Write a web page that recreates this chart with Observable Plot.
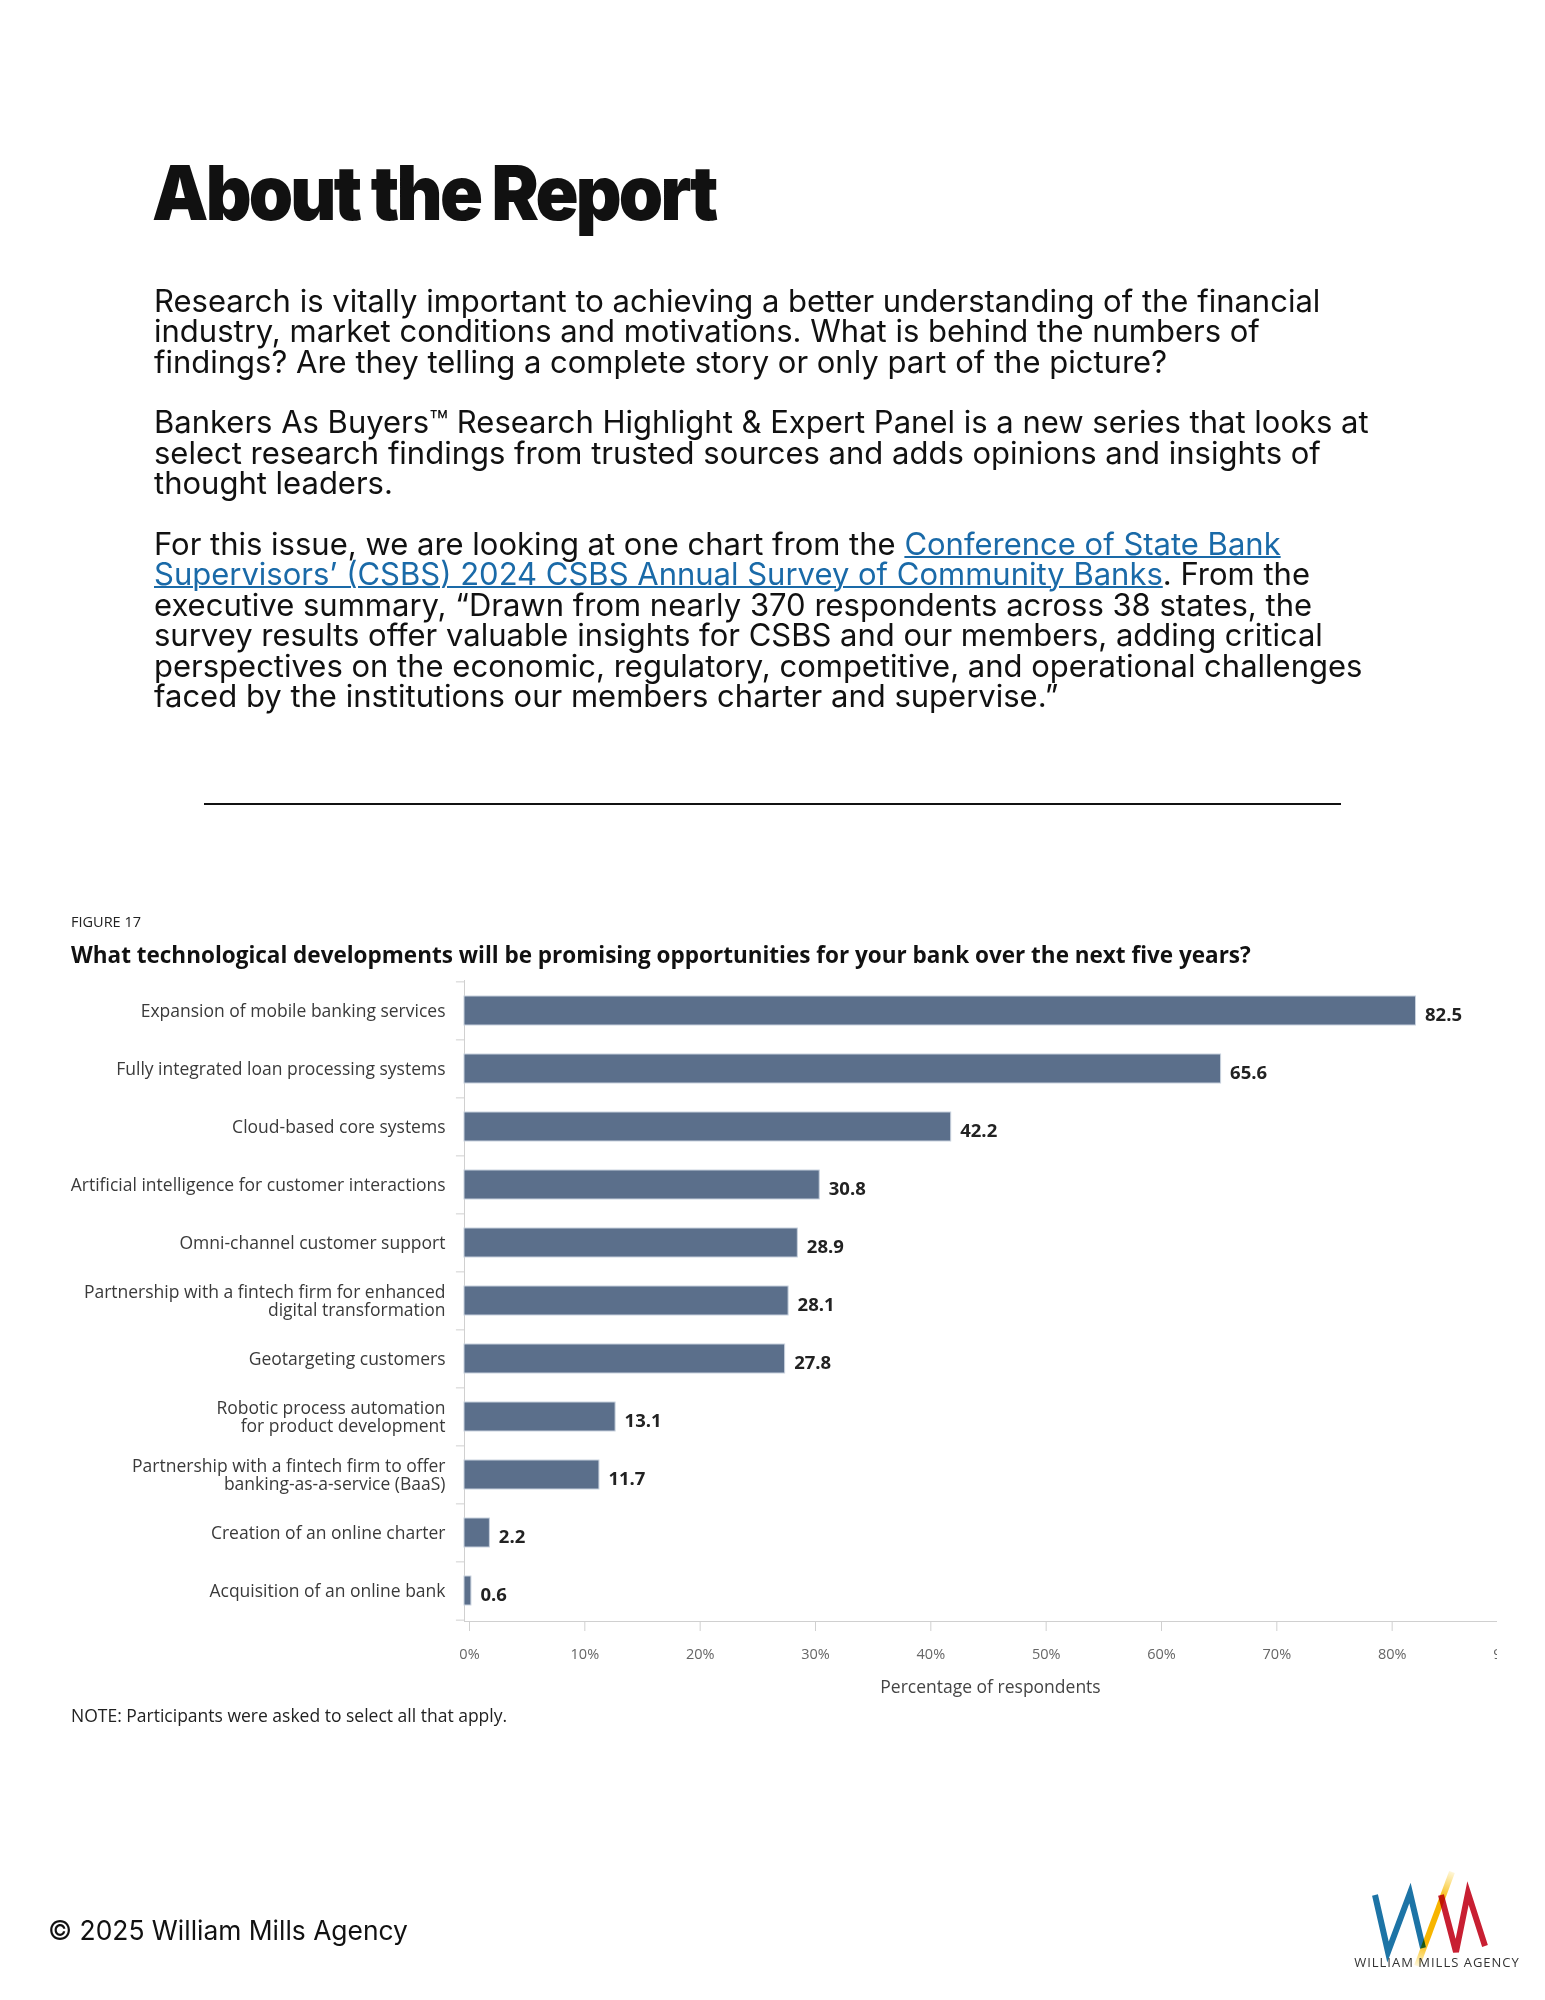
<!DOCTYPE html>
<html><head><meta charset="utf-8">
<script src="https://cdn.jsdelivr.net/npm/d3@7"></script>
<script src="https://cdn.jsdelivr.net/npm/@observablehq/plot@0.6"></script>
<style>
html,body{margin:0;padding:0;background:#fff;}
body{width:1545px;height:2000px;position:relative;overflow:hidden;}
.abs{position:absolute;}
#title{left:152px;top:154px;font-family:Inter;font-weight:900;font-size:76px;letter-spacing:-3px;line-height:76px;color:#111;white-space:nowrap;transform:scaleX(0.935);transform-origin:0 0;}
#body{left:154px;top:285.8px;font-family:Inter;font-size:31px;line-height:30.4px;color:#111;white-space:nowrap;}
#body a{color:#1a6aa8;text-decoration:underline;text-decoration-thickness:2px;}
#rule{left:204px;top:803px;width:1137px;height:2px;background:#111;}
#fig{left:71px;top:912px;font-family:"Open Sans";font-size:14.5px;line-height:20px;color:#222;}
#ctitle{left:71px;top:941px;font-family:"Open Sans";font-weight:700;font-size:22.5px;line-height:28px;color:#111;white-space:nowrap;}
#chart{left:0;top:960px;width:1497px;height:751px;overflow:hidden;}
#note{left:71px;top:1703px;font-family:"Open Sans";font-size:17.5px;line-height:24px;color:#222;white-space:nowrap;}
#copy{left:48px;top:1914px;font-family:Inter;font-size:26.4px;line-height:32px;color:#111;white-space:nowrap;}
#logo{left:1340px;top:1860px;}
</style></head><body>
<div id="title" class="abs">About the Report</div>
<div id="body" class="abs">Research is vitally important to achieving a better understanding of the financial<br>industry, market conditions and motivations. What is behind the numbers of<br>findings? Are they telling a complete story or only part of the picture?<br><br>Bankers As Buyers™ Research Highlight &amp; Expert Panel is a new series that looks at<br>select research findings from trusted sources and adds opinions and insights of<br>thought leaders.<br><br>For this issue, we are looking at one chart from the <a>Conference of State Bank</a><br><a>Supervisors’ (CSBS) 2024 CSBS Annual Survey of Community Banks</a>. From the<br>executive summary, “Drawn from nearly 370 respondents across 38 states, the<br>survey results offer valuable insights for CSBS and our members, adding critical<br>perspectives on the economic, regulatory, competitive, and operational challenges<br>faced by the institutions our members charter and supervise.”</div>
<div id="rule" class="abs"></div>
<div id="fig" class="abs">FIGURE 17</div>
<div id="ctitle" class="abs">What technological developments will be promising opportunities for your bank over the next five years?</div>
<div id="chart" class="abs"></div>
<div id="note" class="abs">NOTE: Participants were asked to select all that apply.</div>
<div id="copy" class="abs">© 2025 William Mills Agency</div>
<svg id="logo" class="abs" width="190" height="120" viewBox="1340 1860 190 120">
  <defs>
    <linearGradient id="yg" gradientUnits="userSpaceOnUse" x1="1452" y1="1872" x2="1417" y2="1966">
      <stop offset="0" stop-color="#f9c300" stop-opacity="0.15"/>
      <stop offset="0.3" stop-color="#f7b500" stop-opacity="1"/>
      <stop offset="0.75" stop-color="#f7b500" stop-opacity="1"/>
      <stop offset="1" stop-color="#f9c300" stop-opacity="0.15"/>
    </linearGradient>
  </defs>
  <polyline points="1375,1895 1388,1952 1410,1893 1423,1948" fill="none" stroke="#1d74a6" stroke-width="6" stroke-linejoin="miter"/>
  <polyline points="1441,1895 1456,1952 1468,1893 1485,1946" fill="none" stroke="#c81f32" stroke-width="6" stroke-linejoin="miter"/>
  <line x1="1452" y1="1872" x2="1417" y2="1966" stroke="url(#yg)" stroke-width="6" style="mix-blend-mode:multiply"/>
  <text x="1437" y="1967" text-anchor="middle" font-family="Open Sans" font-size="13" letter-spacing="1" fill="#333">WILLIAM MILLS AGENCY</text>
</svg>
<script>
const categories = [
  "Expansion of mobile banking services",
  "Fully integrated loan processing systems",
  "Cloud-based core systems",
  "Artificial intelligence for customer interactions",
  "Omni-channel customer support",
  "Partnership with a fintech firm for enhanced\ndigital transformation",
  "Geotargeting customers",
  "Robotic process automation\nfor product development",
  "Partnership with a fintech firm to offer\nbanking-as-a-service (BaaS)",
  "Creation of an online charter",
  "Acquisition of an online bank"
];
const values = [82.5, 65.6, 42.2, 30.8, 28.9, 28.1, 27.8, 13.1, 11.7, 2.2, 0.6];
const xTicks = [0, 10, 20, 30, 40, 50, 60, 70, 80, 90];
const xLabel = "Percentage of respondents";

const data = categories.map((c, i) => ({category: c, value: values[i]}));
const H = 751, MT = 20, MB = 90;
const step = (H - MT - MB) / categories.length;

const chart = Plot.plot({
  width: 1545, height: H,
  marginLeft: 464, marginRight: 43, marginTop: MT, marginBottom: MB,
  style: {fontFamily: "Open Sans", background: "transparent", maxWidth: "none", overflow: "visible"},
  x: {domain: [0, 90]},
  y: {domain: categories, paddingInner: 0.5, paddingOuter: 0.25, axis: null},
  marks: [
    Plot.frame({anchor: "left", stroke: "#d0d0d0"}),
    Plot.frame({anchor: "bottom", stroke: "#d0d0d0"}),
    Plot.ruleY(categories, {y: d => d, x1: -0.7, x2: 0, dy: -step / 2, stroke: "#d0d0d0"}),
    Plot.ruleY(categories.slice(-1), {y: d => d, x1: -0.7, x2: 0, dy: step / 2, stroke: "#d0d0d0"}),
    Plot.barX(data, {x: "value", y: "category", fill: "#5b6f8b", stroke: "#c8d1dd", strokeWidth: 1}),
    Plot.text(data, {x: "value", y: "category", text: d => d.value.toFixed(1), dx: 9, dy: 4, textAnchor: "start", fontWeight: 700, fontSize: 18.5, fill: "#222"}),
    Plot.text(data, {x: 0, y: "category", text: "category", dx: -19, textAnchor: "end", fontSize: 17.5, fill: "#3a3a3a", lineHeight: 1.05}),
    Plot.axisX({ticks: xTicks, tickFormat: d => d + "%", tickSize: 10, tickPadding: 17, dx: 5, fontSize: 14.5, stroke: "#d0d0d0", fill: "#666", label: null}),
    Plot.text([xLabel], {frameAnchor: "bottom", dy: 66, dx: 7, fontSize: 17.5, fill: "#444", lineAnchor: "middle"})
  ]
});
document.getElementById("chart").appendChild(chart);
</script>
</body></html>
